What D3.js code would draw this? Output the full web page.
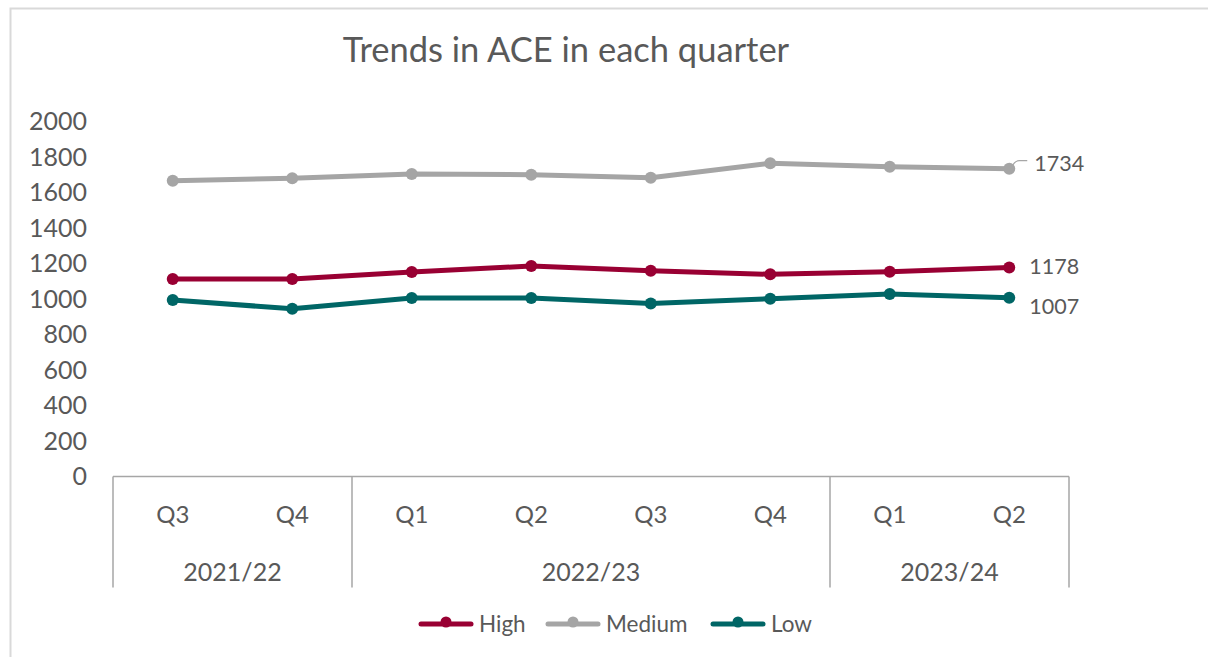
<!DOCTYPE html>
<html>
<head>
<meta charset="utf-8">
<script src="https://cdn.jsdelivr.net/npm/d3@7"></script>
<style>
  body { margin: 0; background: #fff; }
  text { font-family: Lato, "Open Sans", sans-serif; fill: #595959; }
</style>
</head>
<body>
<div id="chart"></div>
<script>
// quarters and the financial year each one belongs to
var quarters = ["Q3", "Q4", "Q1", "Q2", "Q3", "Q4", "Q1", "Q2"];
var years = ["2021/22", "2021/22", "2022/23", "2022/23", "2022/23", "2022/23", "2023/24", "2023/24"];
var yTicks = [0, 200, 400, 600, 800, 1000, 1200, 1400, 1600, 1800, 2000];

var high = [1113, 1113, 1152, 1186, 1159, 1139, 1154, 1178];
var medium = [1666, 1680, 1704, 1700, 1683, 1765, 1745, 1734];
var low = [994, 945, 1006, 1006, 974, 1002, 1028, 1007];

var seriesNames = ["High", "Medium", "Low"];
var seriesColors = ["#990033", "#a5a5a5", "#006666"];

document.addEventListener("DOMContentLoaded", function () {
    drawChart();
});

function drawChart() {
    const width = 1208, height = 657;
    const margin = {top: 121.5, right: 139, bottom: 180.5, left: 113};
    const plotW = width - margin.left - margin.right;
    const plotH = height - margin.top - margin.bottom;

    var svg = d3.select("#chart")
        .append("svg")
            .attr("width", width)
            .attr("height", height);

    // outer chart border (runs off the right and bottom of the picture)
    svg.append("rect")
        .attr("x", 10.5).attr("y", 8.5)
        .attr("width", width + 20).attr("height", height + 20)
        .attr("fill", "none")
        .attr("stroke", "#d9d9d9")
        .attr("stroke-width", 2);

    svg.append("text")
        .attr("x", 566)
        .attr("y", 62)
        .attr("text-anchor", "middle")
        .style("font-size", "34.5px")
        .text("Trends in ACE in each quarter");

    var g = svg.append("g")
        .attr("transform", `translate(${margin.left}, ${margin.top})`);

    var idx = d3.range(quarters.length);

    //x scale, one band per quarter
    var xScale = d3.scaleBand()
        .domain(idx)
        .range([0, plotW]);
    var xMid = i => xScale(i) + xScale.bandwidth() / 2;

    //y scale
    var yScale = d3.scaleLinear()
        .domain([0, 2000])
        .range([plotH, 0]);

    //y axis labels only, no line
    var yAxis = g.append("g")
        .attr("transform", "translate(-26,0)")
        .call(d3.axisLeft(yScale).tickValues(yTicks).tickFormat(d3.format("d")).tickSize(0).tickPadding(0));
    yAxis.select(".domain").remove();
    yAxis.selectAll("text")
        .style("font-size", "25px")
        .style("font-family", "Lato, 'Open Sans', sans-serif")
        .attr("fill", "#595959");

    //quarter labels
    g.selectAll(".qlab")
        .data(idx)
        .join("text")
        .attr("class", "qlab")
        .attr("x", d => xMid(d))
        .attr("y", plotH + 46)
        .attr("text-anchor", "middle")
        .style("font-size", "24px")
        .text(d => quarters[d]);

    //group years
    var groups = d3.groups(idx, i => years[i]);
    var sepX = [0];
    groups.forEach(function (grp) {
        var last = grp[1][grp[1].length - 1];
        sepX.push(xScale(last) + xScale.bandwidth());
    });

    g.append("line")
        .attr("x1", 0).attr("x2", plotW)
        .attr("y1", plotH).attr("y2", plotH)
        .attr("stroke", "#a6a6a6")
        .attr("stroke-width", 1.5);

    g.selectAll(".sep")
        .data(sepX)
        .join("line")
        .attr("class", "sep")
        .attr("x1", d => d).attr("x2", d => d)
        .attr("y1", plotH).attr("y2", plotH + 111)
        .attr("stroke", "#a6a6a6")
        .attr("stroke-width", 1.5);

    g.selectAll(".ylab")
        .data(groups)
        .join("text")
        .attr("class", "ylab")
        .attr("x", d => (xScale(d[1][0]) + xScale(d[1][d[1].length - 1]) + xScale.bandwidth()) / 2)
        .attr("y", plotH + 104)
        .attr("text-anchor", "middle")
        .style("font-size", "25px")
        .text(d => d[0]);

    //lines and markers
    var allSeries = [high, medium, low];
    var line = d3.line()
        .x((d, i) => xMid(i))
        .y(d => yScale(d));

    // draw medium first so high/low sit on top as in the original
    [1, 0, 2].forEach(function (s) {
        g.append("path")
            .datum(allSeries[s])
            .attr("fill", "none")
            .attr("stroke", seriesColors[s])
            .attr("stroke-width", 5)
            .attr("stroke-linejoin", "round")
            .attr("d", line);

        g.selectAll(".dot" + s)
            .data(allSeries[s])
            .join("circle")
            .attr("class", "dot" + s)
            .attr("cx", (d, i) => xMid(i))
            .attr("cy", d => yScale(d))
            .attr("r", 6)
            .attr("fill", seriesColors[s]);
    });

    //end labels
    var n = quarters.length - 1;
    var lastX = xMid(n);
    // leader line for the medium label
    g.append("path")
        .attr("d", `M${lastX + 3},${yScale(medium[n]) - 2} Q${lastX + 5},${yScale(medium[n]) - 8} ${lastX + 10},${yScale(medium[n]) - 8} L${lastX + 18},${yScale(medium[n]) - 8}`)
        .attr("fill", "none")
        .attr("stroke", "#a6a6a6")
        .attr("stroke-width", 1.2);

    g.append("text")
        .attr("x", lastX + 25)
        .attr("y", yScale(medium[n]) + 2)
        .style("font-size", "21.5px")
        .text(medium[n]);
    g.append("text")
        .attr("x", lastX + 20)
        .attr("y", yScale(high[n]) + 7)
        .style("font-size", "21.5px")
        .text(high[n]);
    g.append("text")
        .attr("x", lastX + 20)
        .attr("y", yScale(low[n]) + 16)
        .style("font-size", "21.5px")
        .text(low[n]);

    //legend
    var legendX = [421, 548, 713];
    var legend = svg.selectAll(".legend")
        .data(seriesNames)
        .join("g")
        .attr("class", "legend")
        .attr("transform", (d, i) => `translate(${legendX[i]}, 624)`);

    legend.append("line")
        .attr("x1", 0).attr("x2", 50)
        .attr("y1", 0).attr("y2", 0)
        .attr("stroke", (d, i) => seriesColors[i])
        .attr("stroke-width", 5)
        .attr("stroke-linecap", "round");
    legend.append("circle")
        .attr("cx", 25).attr("cy", -2)
        .attr("r", 5.5)
        .attr("fill", (d, i) => seriesColors[i]);
    legend.append("text")
        .attr("x", 58)
        .attr("y", 8)
        .style("font-size", "22.5px")
        .text(d => d);
}
</script>
</body>
</html>
